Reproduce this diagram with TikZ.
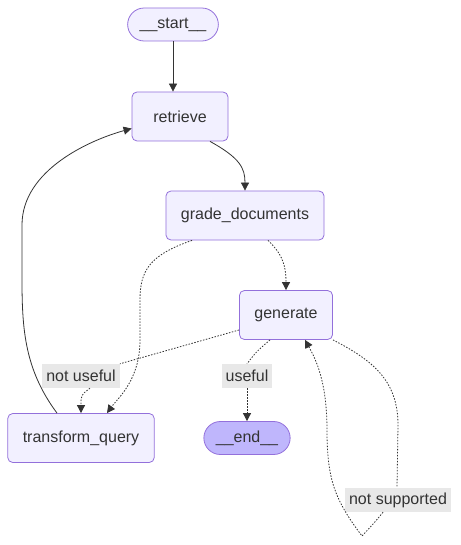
\documentclass[tikz,border=0pt]{standalone}
\usepackage{fontspec}
\setmainfont{Liberation Sans}
\usetikzlibrary{shapes}
\usetikzlibrary{positioning}
\usetikzlibrary{arrows.meta}
\definecolor{nodefill}{HTML}{F2F0FF}
\definecolor{nodeline}{HTML}{9370DB}
\definecolor{endfill}{HTML}{BFB6FC}
\definecolor{lblfill}{HTML}{E8E8E8}
\definecolor{ink}{HTML}{333333}

\begin{document}
\begin{tikzpicture}[x=1pt,y=-1pt]
		\tikzstyle{every node}=[font=\fontsize{16}{19}\selectfont, text=ink];
		\tikzstyle{box}=[draw=nodeline, line width=0.8pt, fill=nodefill, rounded corners=5pt, minimum height=49pt, inner xsep=15pt];
		\tikzstyle{pill}=[draw=nodeline, line width=0.8pt, rounded corners=16.5pt, minimum height=33pt, inner xsep=12pt];
		\tikzstyle{lbl}=[fill=lblfill, minimum height=24pt, inner xsep=4pt, inner ysep=0pt];
		\tikzstyle{edge}=[draw=ink, line width=0.8pt, -{Triangle[length=8pt,width=8pt]}];
		\tikzstyle{cond}=[edge, dash pattern=on 1.5pt off 1.5pt];
		\useasboundingbox (0,0) rectangle (460,545);
		\path (173,24.5)  node[pill, fill=nodefill] (start) {\_\_start\_\_};
		\path (180,116.5) node[box, minimum width=96pt] (retrieve) {retrieve};
		\path (245,215.5) node[box] (grade) {grade\_documents};
		\path (286,315)   node[box] (generate) {generate};
		\path (81,438)    node[box] (transform) {transform\_query};
		\path (247,438)   node[pill, fill=endfill] (end) {\_\_end\_\_};
		\path (81,376)    node[lbl] (lnu) {not useful};
		\path (247,376)   node[lbl] (lu) {useful};
		\path (398,500)   node[lbl] (lns) {not supported};
		\coordinate (bot) at (362,536);
		\draw[edge] (start.south) -- (start.south |- retrieve.north);
		\draw[edge] ([xshift=30pt]retrieve.south) .. controls (240,158) and (245,168) .. (grade.north);
		\draw[edge] ([xshift=-24pt]transform.north) .. controls (25,370) and (22,330) .. (22,280)
			-- (22,225) .. controls (22,170) and (90,140) .. ([yshift=-12pt]retrieve.west);
		\draw[cond] ([xshift=-53pt]grade.south) .. controls (150,255) and (140,270) .. (140,300)
			-- (140,340) .. controls (140,380) and (118,398) .. ([xshift=26pt]transform.north);
		\draw[cond] ([xshift=23pt]grade.south) .. controls (280,252) and (286,262) .. (generate.north);
		\draw[draw=ink, line width=0.8pt, dash pattern=on 1.5pt off 1.5pt] ([yshift=-15pt]generate.west) -- (lnu.north east);
		\draw[cond] ([xshift=9pt]lnu.south) .. controls (81,395) .. (transform.north);
		\draw[draw=ink, line width=0.8pt, dash pattern=on 1.5pt off 1.5pt] ([xshift=-16pt]generate.south) .. controls (256,352) .. (lu.north);
		\draw[cond] (lu.south) -- (end.north);
		\draw[draw=ink, line width=0.8pt, dash pattern=on 1.5pt off 1.5pt] (generate.south east) .. controls (372,360) and (398,380) .. (398,425)
			-- ([xshift=-1pt]lns.north);
		\draw[cond] ([xshift=-15pt]lns.south) .. controls (375,522) .. (bot)
			.. controls (335,500) and (327,480) .. (327,430)
			.. controls (327,380) and (315,358) .. ([xshift=19pt]generate.south);
\end{tikzpicture}
\end{document}
